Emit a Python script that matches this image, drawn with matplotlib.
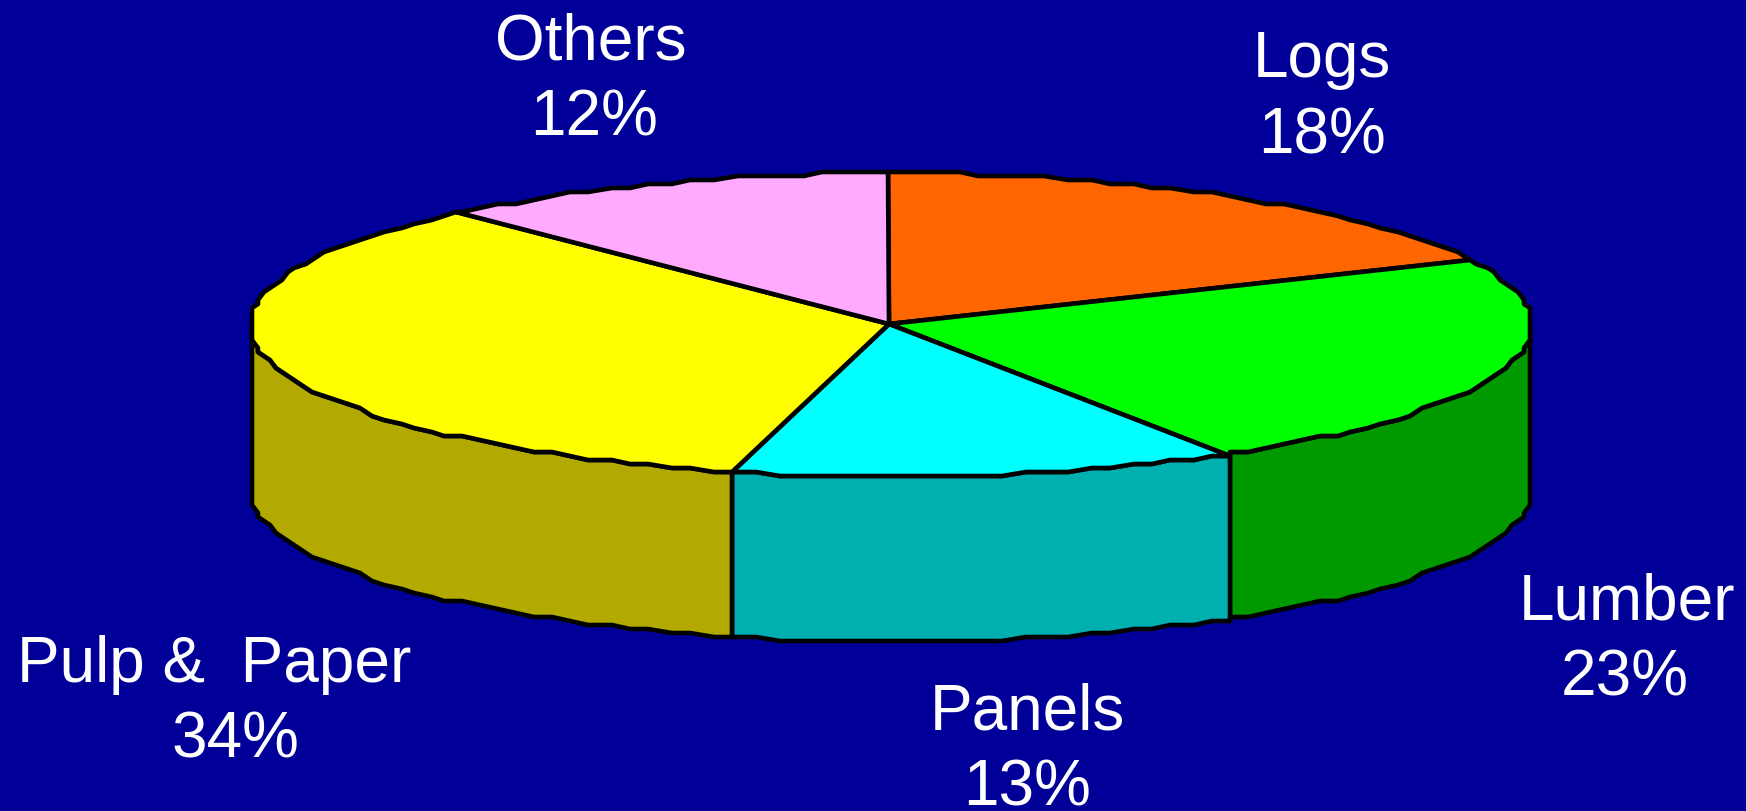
import numpy as np
import matplotlib
matplotlib.use('Agg')
import matplotlib.pyplot as plt
from matplotlib.patches import Polygon

names = ['Logs', 'Lumber', 'Panels', 'Pulp &  Paper', 'Others']
# slice sizes estimated from the seams, the labels show them rounded
shares = [17.9, 23.3, 12.8, 34.2, 11.8]
top_colors = ['#FF6600', '#00FF00', '#00FFFF', '#FFFF00', '#FFAAFF']
side_colors = ['#B25A00', '#009900', '#00B0B0', '#B2AA00', '#B277B2']

# label centres and baselines in pixels
name_x = [1322, 1627, 1027, 214, 591]
name_y = [77, 620, 730, 682, 60]
pct_x = [1322, 1625, 1027, 235, 594]
pct_y = [153, 696, 805, 758, 136]

bg = '#000099'
cx, cy = 891, 325
rx, ry = 641, 152
depth = 165
grid_x, grid_y = 6, 4


def rim(t, dy=0):
    # t is degrees clockwise from the top, snapped to a coarse grid for the rough edge
    a = np.radians(t)
    x = cx + rx * np.sin(a)
    y = cy - ry * np.cos(a)
    x = np.round(x / grid_x) * grid_x
    y = np.round(y / grid_y) * grid_y
    return np.column_stack([x, y + dy])


def angles(a0, a1):
    inner = np.arange(np.ceil(a0 / 2) * 2, a1, 2)
    return np.concatenate([[a0], inner, [a1]])


fig = plt.figure(figsize=(17.46, 8.11), dpi=100, facecolor=bg)
ax = fig.add_axes([0, 0, 1, 1])
ax.set_xlim(0, 1746)
ax.set_ylim(811, 0)
ax.axis('off')

edges = np.concatenate([[0], np.cumsum(shares)]) * 3.6

# side walls, only the front half shows
for i in range(len(shares)):
    a0 = max(edges[i], 90)
    a1 = min(edges[i + 1], 270)
    if a0 >= a1:
        continue
    t = angles(a0, a1)
    pts = np.vstack([rim(t), rim(t[::-1], depth)])
    ax.add_patch(Polygon(pts, closed=True, fc=side_colors[i], ec='black', lw=3.3, joinstyle='round'))

# top face
for i in range(len(shares)):
    t = angles(edges[i], edges[i + 1])
    pts = np.vstack([[[cx - 2, cy - 1]], rim(t)])
    ax.add_patch(Polygon(pts, closed=True, fc=top_colors[i], ec='black', lw=3.3, joinstyle='round'))

for i in range(len(names)):
    ax.text(name_x[i], name_y[i], names[i], color='white', fontsize=46, family='Liberation Sans',
            ha='center', va='baseline')
    ax.text(pct_x[i], pct_y[i], '%d%%' % round(shares[i]), color='white', fontsize=46, family='Liberation Sans',
            ha='center', va='baseline', clip_on=False)

plt.savefig('out.png', dpi=100, facecolor=bg)
